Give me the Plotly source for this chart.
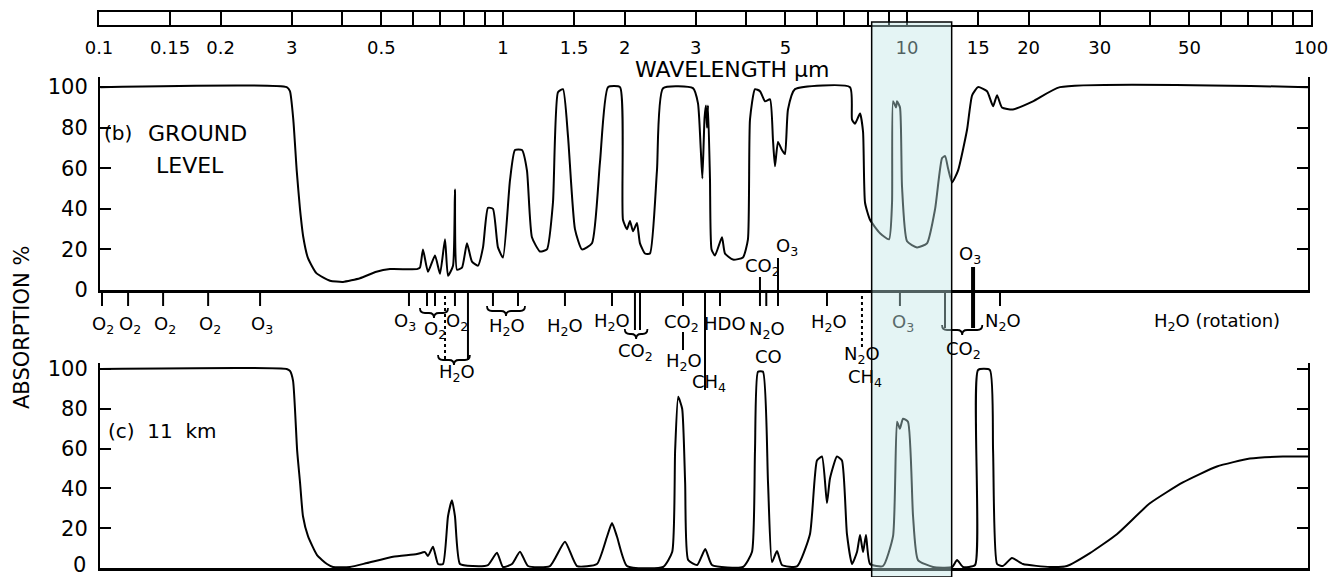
import math
import plotly.graph_objects as go

W, H = 1332, 577

# ---------------- data ----------------
# (b) ground level absorption (%) vs wavelength (um)
lam_ground = [0.102, 0.2951, 0.3006, 0.3064, 0.3124, 0.3183, 0.3244, 0.3332, 0.3495, 0.3777,
              0.4068, 0.4482, 0.4922, 0.5319, 0.6202, 0.631, 0.642, 0.6606, 0.6876, 0.7075,
              0.728, 0.7405, 0.762, 0.7705, 0.7794, 0.802, 0.8251, 0.849, 0.8786, 0.9042,
              0.9301, 0.957, 0.9847, 1.0132, 1.0545, 1.085, 1.129, 1.1617, 1.1953, 1.251,
              1.302, 1.3475, 1.3866, 1.4267, 1.468, 1.5277, 1.59, 1.6834, 1.762, 1.8444,
              1.9752, 2.009, 2.0555, 2.091, 2.127, 2.176, 2.2137, 2.2778, 2.3436, 2.439,
              2.525, 2.995, 3.082, 3.13, 3.16, 3.2, 3.226, 3.245, 3.263, 3.3,
              3.33, 3.396, 3.534, 3.595, 3.763, 3.983, 4.098, 4.146, 4.266, 4.39,
              4.517, 4.648, 4.727, 4.781, 4.864, 4.976, 5.062, 5.149, 5.359, 7.336,
              7.42, 7.548, 7.767, 7.902, 7.992, 8.222, 8.705, 9.163, 9.322, 9.376,
              9.537, 9.592, 9.756, 9.869, 10.155, 10.75, 11.38, 11.92, 12.4, 12.62,
              12.83, 13.13, 13.59, 14.3, 14.72, 15.23, 16.03, 16.59, 16.97, 17.45,
              18.58, 20.83, 24.3, 100]
abs_ground = [100, 100, 98, 84, 59, 40, 26, 15.7, 8.3, 4.6,
              4, 5.8, 9, 10.3, 10.3, 11, 20, 9, 17, 8,
              25, 7, 12, 49.5, 10, 11, 23, 14, 12, 21,
              40.5, 40, 21, 16, 54, 69, 69, 59, 26, 19,
              20, 43, 97.5, 99, 76, 30, 20, 23, 63, 100,
              100, 34.6, 30, 34, 29, 33, 23, 18, 18, 59,
              99.5, 99.5, 92, 70, 55, 85, 91, 80, 91, 55,
              20, 17, 26, 18, 15, 16, 25, 84, 99, 98,
              93, 94, 74, 61, 73, 69, 67, 89, 99, 100,
              84, 82, 87, 78, 43, 34.6, 28, 25, 43, 93,
              90, 93, 90, 51, 24, 21, 23, 40, 65, 66,
              60, 53, 59, 79, 96, 100, 98, 90.6, 96, 90,
              89, 93, 100, 100]

# (c) 11 km absorption (%) vs wavelength (um)
lam_11km = [0.102, 0.2951, 0.3006, 0.306, 0.3132, 0.3184, 0.3238, 0.3332, 0.3508, 0.3713,
            0.3842, 0.4232, 0.4664, 0.541, 0.6204, 0.6494, 0.6606, 0.6798, 0.6996, 0.7199,
            0.7405, 0.7575, 0.7705, 0.7929, 0.8537, 0.93, 0.9791, 1.0132, 1.0666, 1.1165,
            1.1685, 1.3246, 1.443, 1.5453, 1.7318, 1.8339, 1.8872, 1.942, 2.0555, 2.525,
            2.66, 2.705, 2.753, 2.816, 2.864, 2.914, 3.068, 3.212, 3.338, 3.983,
            4.193, 4.266, 4.339, 4.465, 4.595, 4.70, 4.837, 4.976, 5.42, 5.837,
            6.075, 6.251, 6.432, 6.543, 6.81, 7.006, 7.209, 7.42, 7.633, 7.767,
            7.902, 8.035, 8.222, 8.855, 9.376, 9.592, 9.75, 9.925, 10.21, 10.51,
            10.81, 11.78, 13.13, 13.51, 13.98, 14.97, 15.23, 16.29, 16.59, 16.97,
            17.54, 18.48, 19.67, 22.94, 25.27, 28.83, 33.62, 40.58, 48.98, 59.48,
            71.78, 86.67, 100]
abs_11km = [100, 100, 99, 94, 59, 43, 26, 16, 6.5, 2,
            0.5, 0.5, 2.5, 5.7, 7, 8, 6, 10.7, 2, 2,
            26, 34, 26, 2, 1, 1.5, 7.7, 0.5, 2, 8.2,
            1, 1, 13.2, 1, 2, 15.7, 22.6, 15.7, 1, 0.5,
            8, 59, 86, 80, 43, 4, 1.5, 9.5, 1.5, 0.5,
            8, 59, 98.6, 98.6, 43, 3, 8.5, 1.5, 0.8, 17,
            54, 56, 32.6, 45, 56, 54, 17, 2, 8, 16.6,
            8, 16.6, 2, 1, 16, 73.5, 70, 75, 73.5, 26,
            4, 0.5, 0.5, 4, 0.5, 1.5, 99.5, 99.5, 59, 2,
            1, 5, 2, 0.5, 1, 7.5, 17, 32.5, 43, 51,
            55, 56, 56]

# wavelength ruler (um)
ruler_ticks = [0.1, 0.15, 0.2, 0.3, 0.4, 0.5, 0.6, 0.7, 0.8, 0.9, 1, 1.5, 2, 3, 4, 5, 6, 7, 8, 9,
               10, 15, 20, 30, 40, 50, 60, 70, 80, 90, 100]
ruler_text = ["0.1", "0.15", "0.2", "3", "", "0.5", "", "", "", "", "1", "1.5", "2", "3", "", "5",
              "", "", "", "", "10", "15", "20", "30", "", "50", "", "", "", "", "100"]
y_ticks = [0, 20, 40, 60, 80, 100]
y_tick_text = ["0", "20", "40", "60", "80", "100"]
y_tick_text_low = ["", "20", "40", "60", "80", "100"]

# absorbing-gas band markers (wavelength um)
band_lam = [0.1029, 0.1194, 0.1458, 0.1885, 0.2535, 0.5927, 0.6569, 0.6876, 0.728, 0.7705,
            0.8298, 0.957, 1.104, 1.443, 1.887, 2.151, 2.214, 2.829, 3.208, 3.494,
            4.389, 4.55, 4.864, 6.432, 7.853, 9.752, 12.61, 17.26]
band_labels = [("O<sub>2</sub>", 0.1035, 325), ("O<sub>2</sub>", 0.1207, 325),
               ("O<sub>2</sub>", 0.1474, 325), ("O<sub>2</sub>", 0.1905, 325),
               ("O<sub>3</sub>", 0.2563, 325), ("O<sub>3</sub>", 0.5794, 322),
               ("O<sub>2</sub>", 0.6876, 330), ("O<sub>2</sub>", 0.7794, 322),
               ("H<sub>2</sub>O", 0.7794, 373), ("H<sub>2</sub>O", 1.0366, 327),
               ("H<sub>2</sub>O", 1.443, 327), ("H<sub>2</sub>O", 1.887, 322),
               ("CO<sub>2</sub>", 2.163, 352), ("CO<sub>2</sub>", 2.812, 323),
               ("H<sub>2</sub>O", 2.845, 362), ("HDO", 3.595, 323),
               ("CH<sub>4</sub>", 3.281, 383), ("N<sub>2</sub>O", 4.567, 330),
               ("CO", 4.62, 356), ("CO<sub>2</sub>", 4.464, 267),
               ("O<sub>3</sub>", 5.12, 247), ("H<sub>2</sub>O", 6.505, 323),
               ("N<sub>2</sub>O", 7.852, 355), ("CH<sub>4</sub>", 7.992, 378),
               ("O<sub>3</sub>", 9.922, 323), ("CO<sub>2</sub>", 14.05, 350),
               ("O<sub>3</sub>", 14.54, 255), ("N<sub>2</sub>O", 17.55, 322),
               ("H<sub>2</sub>O (rotation)", 59.49, 322)]
window_lam = [8.3, 13.1]

# ---------------- layout helpers ----------------
FONT = "DejaVu Sans"
X0PX, X1PX = 100, 1308
XR = [-1 + 3 / 403.7, 2.0]


def py(ypix):
    return 1 - ypix / H


def pxx_pix(lam):
    return X0PX + (math.log10(lam) - XR[0]) / (XR[1] - XR[0]) * (X1PX - X0PX)


def pxx(lam):
    return pxx_pix(lam) / W


fig = go.Figure()
line_style = dict(color="black", width=2, shape="spline", smoothing=0.5)
fig.add_trace(go.Scatter(x=lam_ground, y=abs_ground, mode="lines", line=line_style,
                         xaxis="x", yaxis="y", hoverinfo="skip", showlegend=False))
fig.add_trace(go.Scatter(x=lam_11km, y=abs_11km, mode="lines", line=line_style,
                         xaxis="x2", yaxis="y2", hoverinfo="skip", showlegend=False))
fig.add_trace(go.Scatter(x=[1], y=[0.5], mode="none", xaxis="x3", yaxis="y3",
                         hoverinfo="skip", showlegend=False))

xax = dict(type="log", range=XR, domain=[X0PX / W, X1PX / W], showline=True, linewidth=2.5,
           linecolor="black", showticklabels=False, ticks="", showgrid=False, zeroline=False,
           automargin=False)
yax = dict(range=[0, 105], showline=True, mirror="ticks", linewidth=2, linecolor="black",
           ticks="inside", ticklen=11, tickwidth=2, tickcolor="black", tickvals=y_ticks,
           ticktext=y_tick_text, tickfont=dict(family=FONT, size=21, color="black"),
           showgrid=False, zeroline=False, ticklabelstandoff=6, automargin=False,
           ticklabeloverflow="allow")

fig.update_layout(
    width=W, height=H, autosize=False, margin=dict(l=0, r=0, t=0, b=0, pad=0),
    paper_bgcolor="white", plot_bgcolor="white", showlegend=False,
    xaxis=dict(xax, anchor="y"),
    yaxis=dict(yax, anchor="x", domain=[py(290), py(77)]),
    xaxis2=dict(xax, anchor="y2"),
    yaxis2=dict(yax, anchor="x2", domain=[py(568), py(363)], range=[0, 103],
                ticktext=y_tick_text_low),
    xaxis3=dict(type="log", range=[-1, 2], domain=[99 / W, 1311 / W], anchor="y3",
                showline=True, mirror=True, linewidth=2, linecolor="black",
                tickvals=ruler_ticks, ticktext=ruler_text, ticks="outside", ticklen=5,
                tickcolor="rgba(0,0,0,0)", showgrid=True, gridcolor="black", gridwidth=2,
                tickfont=dict(family=FONT, size=18, color="black"), zeroline=False,
                automargin=False, ticklabeloverflow="allow"),
    yaxis3=dict(range=[0, 1], domain=[py(25), py(12)], anchor="x3", showline=True,
                mirror=True, linewidth=2, linecolor="black", showticklabels=False,
                ticks="", showgrid=False, zeroline=False, automargin=False),
)

shapes = []
# band tick marks below the ground-level axis
long_ticks = {0.728: (360, "dot"), 0.8298: (360, "solid"), 2.151: (330, "solid"),
              2.214: (330, "solid"), 3.208: (390, "solid"), 7.853: (350, "dot"),
              12.61: (328, "solid")}
for lam in band_lam:
    yend, dash = long_ticks.get(lam, (306, "solid"))
    shapes.append(dict(type="line", xref="paper", yref="paper", x0=pxx(lam), x1=pxx(lam),
                       y0=py(290), y1=py(yend), line=dict(color="black", width=2, dash=dash)))
# extra segments
shapes.append(dict(type="line", xref="paper", yref="paper", x0=pxx(2.829), x1=pxx(2.829),
                   y0=py(332), y1=py(350), line=dict(color="black", width=2)))
shapes.append(dict(type="line", xref="paper", yref="paper", x0=pxx(4.389), x1=pxx(4.389),
                   y0=py(277), y1=py(290), line=dict(color="black", width=2)))
shapes.append(dict(type="line", xref="paper", yref="paper", x0=pxx(4.864), x1=pxx(4.864),
                   y0=py(258), y1=py(290), line=dict(color="black", width=2)))
shapes.append(dict(type="line", xref="paper", yref="paper", x0=pxx(14.8), x1=pxx(14.8),
                   y0=py(267), y1=py(328), line=dict(color="black", width=4)))


def brace(la, lb, ypix, h=5):
    xa, xb = pxx_pix(la), pxx_pix(lb)
    xm = (xa + xb) / 2
    r = min(5, (xb - xa) / 4)

    def P(x, y):
        return f"{x / W:.5f},{py(y):.5f}"
    return (f"M {P(xa, ypix - h)} Q {P(xa, ypix)} {P(xa + r, ypix)} L {P(xm - r, ypix)} "
            f"Q {P(xm, ypix)} {P(xm, ypix + h)} Q {P(xm, ypix)} {P(xm + r, ypix)} "
            f"L {P(xb - r, ypix)} Q {P(xb, ypix)} {P(xb, ypix - h)}")


for la, lb, yb in [(0.631, 0.7405, 313), (0.925, 1.149, 311), (0.6996, 0.839, 360),
                   (2.03, 2.31, 334), (12.4, 15.6, 330)]:
    shapes.append(dict(type="path", xref="paper", yref="paper", path=brace(la, lb, yb),
                       line=dict(color="black", width=1.8)))

# 8-13 um window highlight
shapes.append(dict(type="rect", xref="paper", yref="paper", x0=pxx(window_lam[0]),
                   x1=pxx(window_lam[1]), y0=0, y1=py(22), layer="above",
                   fillcolor="rgba(190,228,228,0.42)", line=dict(color="black", width=1.5)))
fig.update_layout(shapes=shapes)

ann = []
for txt, lam, yp in band_labels:
    col = "#5a6b6b" if window_lam[0] < lam < window_lam[1] else "black"
    ann.append(dict(text=txt, xref="paper", yref="paper", x=pxx(lam), y=py(yp),
                    xanchor="center", yanchor="middle", showarrow=False,
                    font=dict(family=FONT, size=18, color=col)))

ann += [
    dict(text="WAVELENGTH μm", x=732 / W, y=py(70), xanchor="center", yanchor="middle",
         font=dict(family=FONT, size=22, color="black")),
    dict(text="ABSORPTION %", x=22 / W, y=py(328), textangle=-90, xanchor="center",
         yanchor="middle", font=dict(family=FONT, size=21, color="black")),
    dict(text="(b)", x=102 / W, y=py(133), xanchor="left", yanchor="middle",
         font=dict(family=FONT, size=20, color="black")),
    dict(text="GROUND", x=146 / W, y=py(133), xanchor="left", yanchor="middle",
         font=dict(family=FONT, size=22, color="black")),
    dict(text="LEVEL", x=154 / W, y=py(165), xanchor="left", yanchor="middle",
         font=dict(family=FONT, size=22, color="black")),
    dict(text="(c)  11  km", x=106 / W, y=py(431), xanchor="left", yanchor="middle",
         font=dict(family=FONT, size=20, color="black")),
    dict(text="0", x=88 / W, y=py(565), xanchor="right", yanchor="middle",
         font=dict(family=FONT, size=21, color="black")),
]
for a in ann[-7:]:
    a.update(xref="paper", yref="paper", showarrow=False)
fig.update_layout(annotations=ann)

fig.write_html("out.html", post_script="document.body.style.margin='0px';")
